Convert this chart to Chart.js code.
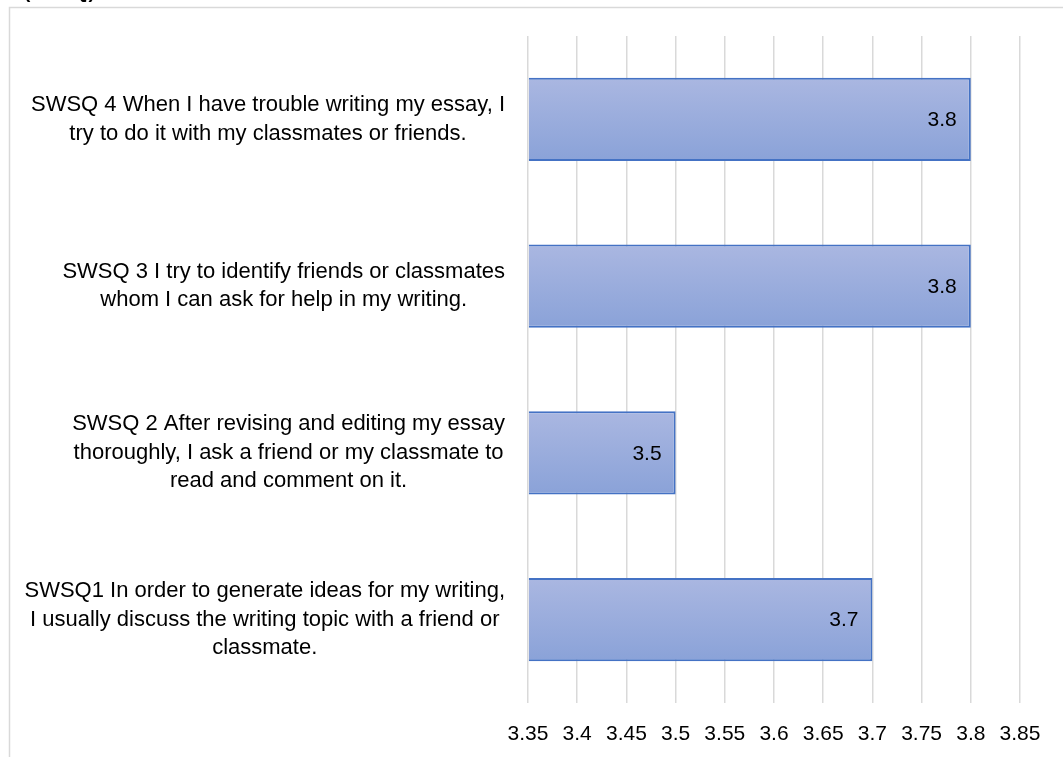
<!DOCTYPE html>
<html>
<head>
<meta charset="utf-8">
<script src="https://cdn.jsdelivr.net/npm/chart.js@4.4.1/dist/chart.umd.min.js"></script>
<style>
  html, body { margin: 0; padding: 0; background: #ffffff; }
  #wrap { position: relative; width: 1063px; height: 757px; overflow: hidden; }
  canvas { display: block; }
</style>
</head>
<body>
<div id="wrap"><canvas id="c" width="1063" height="757"></canvas></div>
<script>
// ---- data ----
const categories = [
  ["SWSQ 4 When I have trouble writing my essay, I", "try to do it with my classmates or friends."],
  ["SWSQ 3 I try to identify friends or classmates", "whom I can ask for help in my writing."],
  ["SWSQ 2 After revising and editing my essay", "thoroughly, I ask a friend or my classmate to", "read and comment on it."],
  ["SWSQ1 In order to generate ideas for my writing,", "I usually discuss the writing topic with a friend or", "classmate."]
];
const values = [3.8, 3.8, 3.5, 3.7];
const valueLabels = ["3.8", "3.8", "3.5", "3.7"];
const xTickLabels = ["3.35", "3.4", "3.45", "3.5", "3.55", "3.6", "3.65", "3.7", "3.75", "3.8", "3.85"];
const xMin = 3.35, xMax = 3.85;
const clippedTitle = "(SWSQ)";

const FONT = "'Liberation Sans', Arial, sans-serif";

const framePlugin = {
  id: 'frame',
  beforeDraw(chart) {
    const ctx = chart.ctx;
    ctx.save();
    ctx.fillStyle = '#ffffff';
    ctx.fillRect(0, 0, chart.width, chart.height);
    ctx.strokeStyle = '#d9d9d9';
    ctx.lineWidth = 1.5;
    ctx.beginPath();
    ctx.moveTo(9.5, chart.height + 5);
    ctx.lineTo(9.5, 7.5);
    ctx.lineTo(chart.width + 5, 7.5);
    ctx.stroke();
    ctx.fillStyle = '#000000';
    ctx.font = "bold 19px " + FONT;
    ctx.textAlign = 'left';
    ctx.textBaseline = 'alphabetic';
    ctx.fillText(clippedTitle, 24, -2);
    ctx.restore();
  }
};

const labelPlugin = {
  id: 'catLabels',
  afterDraw(chart) {
    const ctx = chart.ctx;
    const yScale = chart.scales.y;
    ctx.save();
    ctx.font = "22px " + FONT;
    ctx.fillStyle = '#000000';
    ctx.textBaseline = 'middle';
    ctx.textAlign = 'center';
    const lineH = 28.5;
    const rightEdge = 505;
    categories.forEach((lines, i) => {
      const cy = yScale.getPixelForValue(i);
      let maxW = 0;
      lines.forEach(l => { maxW = Math.max(maxW, ctx.measureText(l).width); });
      const cx = rightEdge - maxW / 2;
      const y0 = cy - (lines.length - 1) * lineH / 2;
      lines.forEach((l, k) => ctx.fillText(l, cx, y0 + k * lineH));
    });
    // value labels inside end
    const meta = chart.getDatasetMeta(0);
    ctx.font = "21px " + FONT;
    ctx.textAlign = 'right';
    meta.data.forEach((el, i) => {
      ctx.fillText(valueLabels[i], el.x - 14, el.y + 1);
    });
    ctx.restore();
  }
};

function barGradient(context) {
  const chart = context.chart;
  const yScale = chart.scales.y;
  if (!chart.chartArea || !yScale) return '#9aacdc';
  const cy = yScale.getPixelForValue(context.dataIndex);
  const half = (yScale.height / categories.length) * 0.5 / 2;
  const g = chart.ctx.createLinearGradient(0, cy - half, 0, cy + half);
  g.addColorStop(0, '#aab7e1');
  g.addColorStop(1, '#8aa2d8');
  return g;
}

new Chart(document.getElementById('c'), {
  type: 'bar',
  data: {
    labels: categories,
    datasets: [{
      data: values,
      base: xMin,
      backgroundColor: barGradient,
      borderColor: '#4472c4',
      borderWidth: 2,
      borderSkipped: 'start',
      categoryPercentage: 1.0,
      barPercentage: 0.5
    }]
  },
  options: {
    indexAxis: 'y',
    responsive: false,
    animation: false,
    devicePixelRatio: 1,
    layout: { padding: { top: 36, right: 43, left: 0, bottom: 0 } },
    plugins: {
      legend: { display: false },
      tooltip: { enabled: false },
      title: { display: false }
    },
    scales: {
      x: {
        type: 'linear',
        min: xMin,
        max: xMax,
        position: 'bottom',
        afterBuildTicks(scale) {
          scale.ticks = xTickLabels.map(t => ({ value: parseFloat(t) }));
        },
        ticks: {
          callback: (v, i) => xTickLabels[i],
          color: '#000000',
          font: { family: FONT, size: 21 },
          padding: 19,
          maxRotation: 0,
          autoSkip: false
        },
        grid: { color: '#d9d9d9', lineWidth: 1.5, drawTicks: false },
        border: { display: false },
        afterFit(scale) { scale.height = 54; }
      },
      y: {
        type: 'category',
        ticks: { display: false },
        grid: { display: false, drawTicks: false },
        border: { display: false },
        afterFit(scale) { scale.width = 528; }
      }
    }
  },
  plugins: [framePlugin, labelPlugin]
});
</script>
</body>
</html>
